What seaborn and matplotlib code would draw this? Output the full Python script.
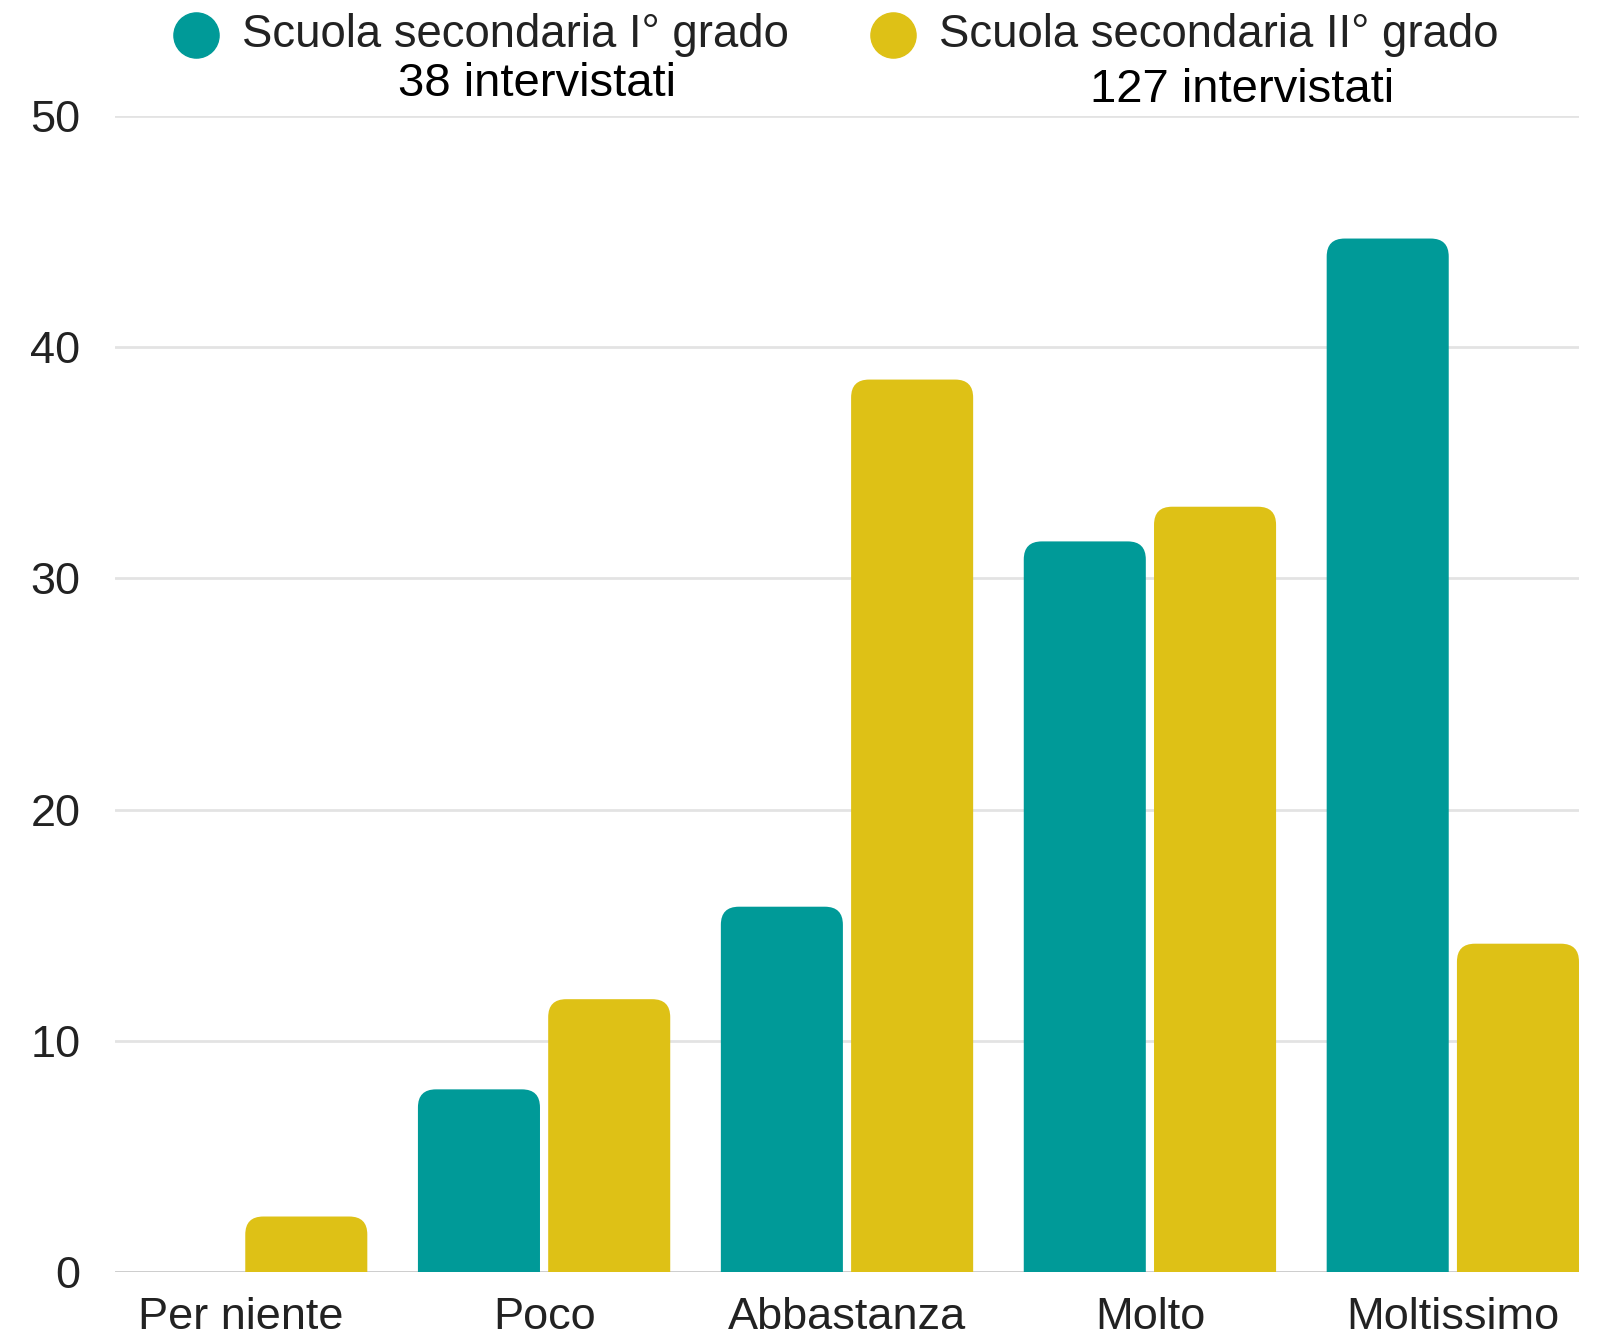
import matplotlib
matplotlib.use("Agg")
import matplotlib.pyplot as plt
import seaborn as sns
import pandas as pd
from matplotlib.patches import FancyBboxPatch
from matplotlib.lines import Line2D

# Risposte (percentuale degli intervistati per grado scolastico)
categories = ["Per niente", "Poco", "Abbastanza", "Molto", "Moltissimo"]
series_names = ["Scuola secondaria I° grado", "Scuola secondaria II° grado"]
primo_grado = [0.0, 7.9, 15.8, 31.6, 44.7]
secondo_grado = [2.4, 11.8, 38.6, 33.1, 14.2]
respondents = ["38 intervistati", "127 intervistati"]
y_ticks = [0, 10, 20, 30, 40, 50]

colors = ["#009A98", "#DEC116"]

df = pd.DataFrame({
    "categoria": categories * 2,
    "serie": [series_names[0]] * len(categories) + [series_names[1]] * len(categories),
    "valore": primo_grado + secondo_grado,
})

sns.set_theme(style="white")
plt.rcParams["font.family"] = ["Liberation Sans", "DejaVu Sans"]

W, H = 1599, 1337
fig = plt.figure(figsize=(W / 100, H / 100), dpi=100)
ax = fig.add_axes([115 / W, 1 - 1272 / H, (1579 - 115) / W, (1272 - 116) / H])

sns.barplot(data=df, x="categoria", y="valore", hue="serie", order=categories,
            hue_order=series_names, palette=colors, width=0.86, gap=0.063,
            saturation=1, legend=False, ax=ax)

xlim = (-0.4165, 4.4165)
ylim = (0, 50)
ax.set_xlim(*xlim)
ax.set_ylim(*ylim)

# Rounded top corners: rebuild each bar as a rounded box that dips below zero
ax_w_px = (1579 - 115)
ax_h_px = (1272 - 116)
x_per_px = (xlim[1] - xlim[0]) / ax_w_px
y_per_px = (ylim[1] - ylim[0]) / ax_h_px
radius_px = 18
aspect = y_per_px / x_per_px
old = list(ax.patches)
for p in old:
    h = p.get_height()
    x0 = p.get_x()
    w = p.get_width()
    fc = p.get_facecolor()
    p.remove()
    if h <= 0:
        continue
    base = -3.0
    box = FancyBboxPatch((x0, base), w, h - base,
                         boxstyle=f"round,pad=0,rounding_size={radius_px * x_per_px}",
                         mutation_aspect=aspect, facecolor=fc, edgecolor="none",
                         zorder=2, clip_on=True)
    ax.add_patch(box)

ax.set_yticks(y_ticks)
ax.yaxis.grid(True, color="#E3E3E3", linewidth=2)
ax.set_axisbelow(True)
ax.axhline(0, color="#CCCCCC", linewidth=2, zorder=1.5)
for s in ax.spines.values():
    s.set_visible(False)
ax.set_xlabel("")
ax.set_ylabel("")
ax.tick_params(axis="y", length=0, pad=25, labelsize=32.5, labelcolor="#222222")
ax.tick_params(axis="x", length=0, pad=18, labelsize=32.5, labelcolor="#222222")

# Legend row with respondent counts
legend_items = [
    (196, 242, 537, 96),
    (893, 939, 1242, 102),
]
for (cx, tx, nx, ny), name, count, col in zip(legend_items, series_names, respondents, colors):
    fig.add_artist(Line2D([cx / W], [1 - 35 / H], marker="o", markersize=32.5,
                          color=col, linestyle="none", transform=fig.transFigure))
    fig.text(tx / W, 1 - 47 / H, name, fontsize=32.8, color="#222222",
             ha="left", va="baseline")
    fig.text(nx / W, 1 - ny / H, count, fontsize=34, color="#000000",
             ha="center", va="baseline")

fig.savefig("out.png", dpi=100)
